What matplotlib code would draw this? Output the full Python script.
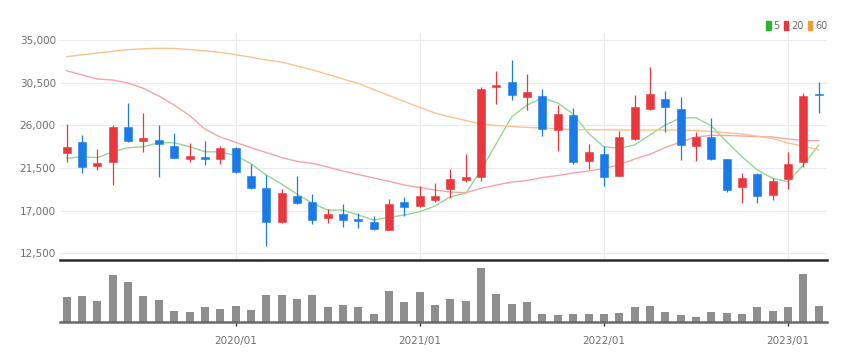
import matplotlib
matplotlib.use("Agg")
import matplotlib.pyplot as plt
from matplotlib.patches import Patch
from matplotlib.ticker import FuncFormatter
import numpy as np
import pandas as pd

# ---------------- data ----------------
months = [d.strftime("%Y/%m") for d in pd.date_range("2019-02-01", periods=50, freq="MS")]

open_ = [23110, 24207, 21739, 22160, 25790, 24376, 24450, 23849, 22477, 22656,
         22445, 23574, 20684, 19354, 15767, 18542, 17877, 16221, 16611, 16147,
         15767, 14955, 17877, 17487, 18120, 19249, 20230, 20515, 30073, 30537,
         29018, 29124, 25505, 27088, 22266, 22973, 20684, 24524, 27720, 28775,
         27689, 23849, 24798, 22414, 19460, 20831, 18647, 20304, 22097, 29335]
close = [23680, 21633, 22023, 25790, 24313, 24629, 24028, 22583, 22794, 22445,
         23638, 21106, 19354, 15831, 18827, 17772, 16010, 16643, 16010, 15873,
         15029, 17666, 17381, 18542, 18542, 20304, 20515, 29830, 30284, 29197,
         29482, 25579, 27161, 22097, 23152, 20515, 24735, 27900, 29271, 27900,
         23922, 24798, 22477, 19175, 20473, 18542, 20124, 21918, 29092, 29197]
high = [26138, 24978, 23469, 26033, 28385, 27330, 26033, 25220, 24102, 24376,
        23817, 23680, 21918, 20757, 19249, 20652, 18753, 17139, 17666, 16780,
        16432, 18194, 18468, 19597, 19882, 21359, 22941, 30010, 31761, 32890,
        31381, 29830, 28143, 27794, 23996, 23849, 25399, 29197, 32120, 29651,
        28955, 25326, 26739, 22450, 20937, 20937, 20473, 23216, 29440, 30537]
low = [22160, 20937, 21285, 19702, 24207, 23216, 20515, 22520, 22160, 21812,
       21918, 21000, 19280, 13299, 15662, 17698, 15556, 15662, 15303, 15134,
       14955, 14955, 16464, 17413, 17941, 18299, 20051, 20156, 28248, 28670,
       27615, 24872, 23321, 21918, 21390, 19629, 20652, 24450, 27615, 25262,
       22340, 22266, 22340, 18996, 17835, 17835, 18120, 19249, 21570, 27267]
volume = [25.0, 25.7, 20.7, 46.7, 40.0, 25.7, 21.7, 11.0, 9.7, 15.0,
          12.7, 15.7, 12.0, 26.7, 27.3, 22.7, 27.3, 15.0, 17.3, 15.0,
          8.3, 30.7, 20.0, 30.0, 16.7, 23.3, 20.7, 54.0, 28.0, 18.3,
          20.0, 8.3, 7.3, 8.3, 8.3, 8.3, 9.0, 15.0, 15.7, 10.0,
          6.7, 5.0, 10.0, 9.0, 8.3, 15.0, 10.7, 15.0, 48.0, 15.7]
ma5 = [22519, 22688, 22583, 23216, 23638, 23743, 24165, 24165, 23743, 23216,
       23184, 22815, 21950, 20757, 19808, 18753, 17772, 17065, 17065, 16538,
       16010, 16295, 16538, 16886, 17487, 18468, 18827, 21285, 24102, 26908,
       28143, 28881, 28354, 27193, 25157, 23743, 23574, 23922, 24978, 26033,
       26771, 26803, 25927, 24271, 22688, 21285, 20410, 20051, 21813, 23922]
ma20 = [31761, 31307, 30885, 30780, 30463, 29904, 29092, 28143, 27035, 25610,
        24766, 24207, 23638, 23131, 22604, 22203, 21992, 21601, 21179, 20810,
        20441, 20093, 19702, 19439, 19175, 18964, 18890, 19354, 19702, 20019,
        20177, 20494, 20705, 20968, 21179, 21464, 21813, 22445, 22941, 23659,
        24239, 24766, 24946, 24925, 24872, 24819, 24766, 24556, 24418, 24376]
ma60 = [33238, 33439, 33629, 33808, 33987, 34082, 34124, 34103, 33998, 33861,
        33702, 33449, 33185, 32890, 32679, 32257, 31856, 31371, 30896, 30411,
        29778, 29145, 28512, 27879, 27299, 26877, 26507, 26138, 25980, 25864,
        25779, 25716, 25632, 25558, 25537, 25526, 25505, 25505, 25505, 25505,
        25505, 25452, 25347, 25220, 25083, 24851, 24609, 24134, 23817, 23395]
price_ticks = [12500, 17000, 21500, 26000, 30500, 35000]
year_labels = ["2020/01", "2021/01", "2022/01", "2023/01"]
ma_names = ["5", "20", "60"]

# ---------------- style ----------------
UP = "#e8383d"
DOWN = "#1b7be6"
MA_COLORS = ["#93d993", "#f5a5a8", "#f9c391"]
TXT = "#6f6f6f"
FONT = ["Liberation Sans Narrow", "DejaVu Sans"]
plt.rcParams["font.family"] = FONT

W, H = 861, 362
fig = plt.figure(figsize=(W / 100, H / 100), dpi=100)

def fx(px):
    return px / W

def fy(py):
    return 1 - py / H

left, right = 60, 827
ax = fig.add_axes([fx(left), fy(260), fx(right - left), fy(33) - fy(260)])
axv = fig.add_axes([fx(left), fy(322), fx(right - left), fy(265) - fy(322)])

x = np.arange(len(months))
o = np.array(open_, float)
c = np.array(close, float)
hi = np.array(high, float)
lo = np.array(low, float)
up = c >= o
cols = np.where(up, UP, DOWN)

# wicks
ax.vlines(x, lo, hi, colors=cols, linewidth=0.9, zorder=3)
# bodies
bottom = np.minimum(o, c)
height = np.maximum(np.abs(c - o), 120)
ax.bar(x, height, bottom=bottom, width=0.52, color=cols, edgecolor=cols,
       linewidth=0.4, zorder=4)

for vals, col in zip([ma5, ma20, ma60], MA_COLORS):
    ax.plot(x, vals, color=col, linewidth=1.0, zorder=2)

# year positions
year_idx = [months.index(lbl) for lbl in year_labels]

xl = (-0.44, 49.54)
ax.set_xlim(*xl)
ax.set_ylim(12500 - 6.7 * 105.5, 35000 + 7 * 105.5)
ax.set_yticks(price_ticks)
ax.yaxis.set_major_formatter(FuncFormatter(lambda v, p: f"{int(v):,}"))
ax.tick_params(axis="y", length=0, pad=3, labelsize=7.5, labelcolor=TXT)
ax.set_xticks(year_idx)
ax.tick_params(axis="x", length=0, labelbottom=False)
ax.grid(True, color="#ebebeb", linewidth=0.8, zorder=0)
ax.set_axisbelow(True)
for s in ["top", "right", "left"]:
    ax.spines[s].set_visible(False)
ax.spines["bottom"].set_color("#2b2b2b")
ax.spines["bottom"].set_linewidth(1.8)

# volume
axv.bar(x, volume, width=0.52, color="#8e8e8e", zorder=2)
axv.set_xlim(*xl)
axv.set_ylim(0, 57)
axv.set_yticks([])
axv.set_xticks(year_idx)
axv.set_xticklabels(year_labels)
axv.tick_params(axis="x", length=3, width=1, color="#333333", pad=7,
                labelsize=7.5, labelcolor=TXT)
for s in ["top", "right", "left"]:
    axv.spines[s].set_visible(False)
axv.spines["bottom"].set_color("#6a6a6a")
axv.spines["bottom"].set_linewidth(1.8)

# legend
handles = [Patch(facecolor=col, edgecolor=col) for col in ["#2db52d", "#e8383d", "#f59a3a"]]
fig.legend(handles, ma_names, loc="upper right", bbox_to_anchor=(fx(832), fy(16)),
           ncol=3, frameon=False, fontsize=7, handlelength=0.45, handleheight=0.9,
           handletextpad=0.25, columnspacing=0.5, labelcolor=TXT, borderpad=0)

fig.savefig("out.png", dpi=100, facecolor="white")
